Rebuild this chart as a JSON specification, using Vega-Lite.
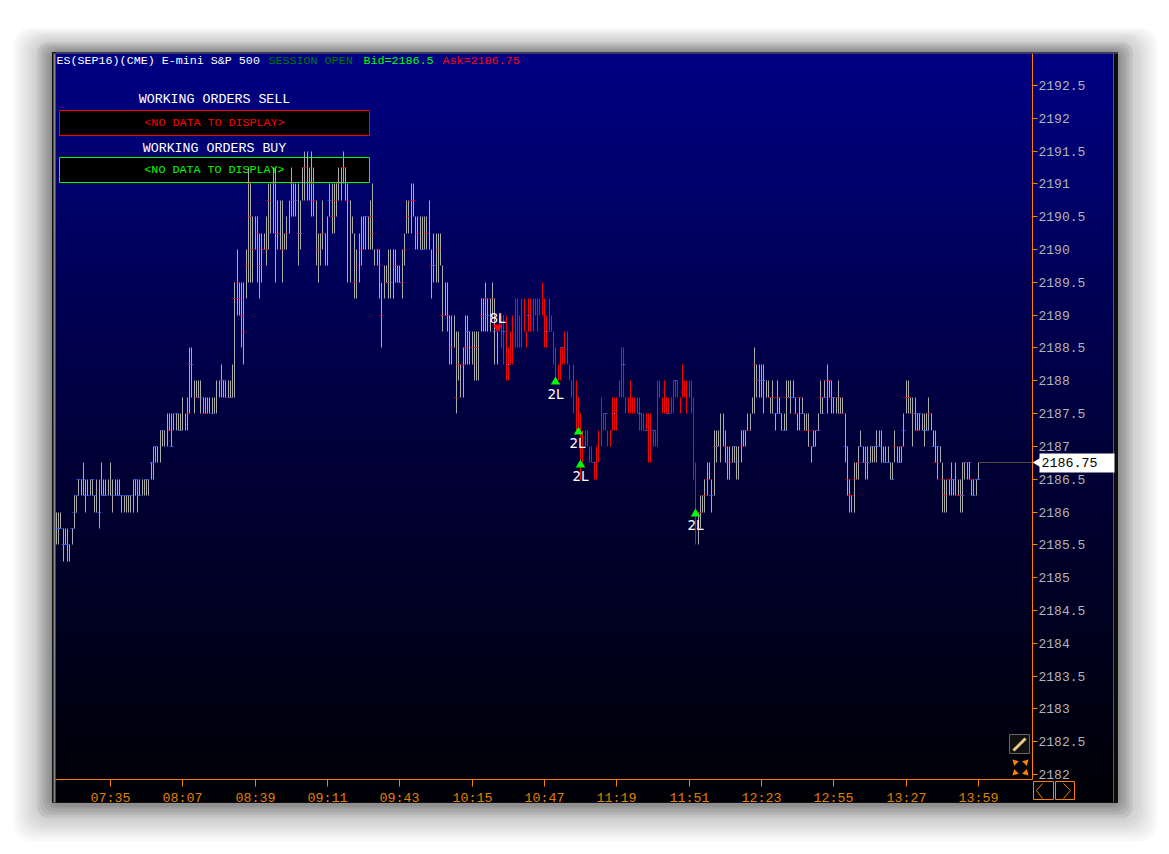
{"$schema":"https://vega.github.io/schema/vega-lite/v6.json","width":977,"height":726,"autosize":{"type":"none"},"padding":{"left":55.5,"top":53.5,"right":136.5,"bottom":74.5},"background":"#ffffff","view":{"stroke":null},
"config":{"axis":{"grid":false,"title":null,"translate":0}},
"encoding":{"x":{"field":"t","type":"temporal","title":null,"scale":{"round":true,"domain":[{"year":1900,"month":1,"date":1,"hours":7,"minutes":10,"seconds":40},{"year":1900,"month":1,"date":1,"hours":14,"minutes":22,"seconds":53}]},"axis":{"orient":"bottom","zindex":1,"format":"%H:%M","values":[{"year":1900,"month":1,"date":1,"hours":7,"minutes":35},{"year":1900,"month":1,"date":1,"hours":8,"minutes":7},{"year":1900,"month":1,"date":1,"hours":8,"minutes":39},{"year":1900,"month":1,"date":1,"hours":9,"minutes":11},{"year":1900,"month":1,"date":1,"hours":9,"minutes":43},{"year":1900,"month":1,"date":1,"hours":10,"minutes":15},{"year":1900,"month":1,"date":1,"hours":10,"minutes":47},{"year":1900,"month":1,"date":1,"hours":11,"minutes":19},{"year":1900,"month":1,"date":1,"hours":11,"minutes":51},{"year":1900,"month":1,"date":1,"hours":12,"minutes":23},{"year":1900,"month":1,"date":1,"hours":12,"minutes":55},{"year":1900,"month":1,"date":1,"hours":13,"minutes":27},{"year":1900,"month":1,"date":1,"hours":13,"minutes":59}],"domainColor":"#ff8000","tickColor":"#ff8000","tickSize":7,"labelColor":"#e08000","labelFont":"Liberation Mono","labelFontSize":13.3,"labelPadding":4,"labelOverlap":false,"labelFlush":false}},
"y":{"field":"l","type":"quantitative","title":null,"scale":{"round":true,"zero":false,"nice":false,"domain":[2181.924,2192.988]},"axis":{"orient":"right","zindex":1,"format":"~f","values":[2182,2182.5,2183,2183.5,2184,2184.5,2185,2185.5,2186,2186.5,2187,2187.5,2188,2188.5,2189,2189.5,2190,2190.5,2191,2191.5,2192,2192.5],"domainColor":"#ff8000","tickColor":"#ff8000","tickSize":5,"labelColor":"#b4b4b4","labelFont":"Liberation Mono","labelFontSize":13,"labelPadding":1,"labelOverlap":false,"labelFlush":false}}},
"layer":[
{"data":{"values":[{"t":"06:52:00","t2":"15:18:00","l":2180.98,"h":2193.39},{"t":"06:53:20","t2":"15:16:40","l":2181.02,"h":2193.36},{"t":"06:54:40","t2":"15:15:20","l":2181.07,"h":2193.33},{"t":"06:56:00","t2":"15:14:00","l":2181.11,"h":2193.30},{"t":"06:57:20","t2":"15:12:40","l":2181.16,"h":2193.27},{"t":"06:58:40","t2":"15:11:20","l":2181.20,"h":2193.24},{"t":"07:00:00","t2":"15:10:00","l":2181.25,"h":2193.21},{"t":"07:01:20","t2":"15:08:40","l":2181.30,"h":2193.18}],"format":{"parse":{"t":"date:'%H:%M:%S'","t2":"date:'%H:%M:%S'"}}},"mark":{"type":"rect","fill":"#000000","opacity":0.025,"cornerRadius":18},"encoding":{"x2":{"field":"t2"},"y2":{"field":"h"}}},
{"data":{"values":[{"t":"07:02:40","t2":"15:07:20","l":2181.34,"h":2193.15},{"t":"07:04:00","t2":"15:06:00","l":2181.39,"h":2193.12},{"t":"07:05:20","t2":"15:04:40","l":2181.43,"h":2193.09},{"t":"07:06:40","t2":"15:03:20","l":2181.48,"h":2193.06},{"t":"07:08:00","t2":"15:02:00","l":2181.52,"h":2193.03}],"format":{"parse":{"t":"date:'%H:%M:%S'","t2":"date:'%H:%M:%S'"}}},"mark":{"type":"rect","fill":"#000000","opacity":0.07,"cornerRadius":10},"encoding":{"x2":{"field":"t2"},"y2":{"field":"h"}}},
{"data":{"values":[{"t":"07:09:20","t2":"15:00:40","l":2181.57,"h":2193.0}],"format":{"parse":{"t":"date:'%H:%M:%S'","t2":"date:'%H:%M:%S'"}}},"mark":{"type":"rect","stroke":"#111111","strokeWidth":1,"fill":{"gradient":"linear","x1":0,"y1":0,"x2":0,"y2":1,"stops":[{"offset":0,"color":"#000084"},{"offset":0.5,"color":"#00003c"},{"offset":1,"color":"#000006"}]}},"encoding":{"x2":{"field":"t2"},"y2":{"field":"h"}}},
{"data":{"values":[{"t":"07:09:50","t2":"07:10:40","l":2181.57,"h":2192.985,"n":"left"},{"t":"14:58:43","t2":"15:00:40","l":2181.57,"h":2192.985,"n":"right"}],"format":{"parse":{"t":"date:'%H:%M:%S'","t2":"date:'%H:%M:%S'"}}},"mark":{"type":"rect"},"encoding":{"x2":{"field":"t2"},"y2":{"field":"h"},"fill":{"field":"n","scale":{"domain":["left","right"],"range":["#8a8a8a","#0c0c0c"]},"legend":null}}},
{"data":{"values":[{"t":"07:10:40","t2":"15:00:40","l":2192.985,"h":2193.0}],"format":{"parse":{"t":"date:'%H:%M:%S'","t2":"date:'%H:%M:%S'"}}},"mark":{"type":"rect","fill":"#707070"},"encoding":{"x2":{"field":"t2"},"y2":{"field":"h"}}},
{"data":{"values":[{"t":"14:58:43","l":2181.57,"h":2192.985}],"format":{"parse":{"t":"date:'%H:%M:%S'"}}},"mark":{"type":"rule","color":"#5a5a5a","strokeWidth":1},"encoding":{"y2":{"field":"h"}}},
{"data":{"values":[{"t":"07:12:30","t2":"09:29:30","l":2191.74,"h":2192.12,"n":"sell"},{"t":"07:12:30","t2":"09:29:30","l":2191.02,"h":2191.4,"n":"buy"}],"format":{"parse":{"t":"date:'%H:%M:%S'","t2":"date:'%H:%M:%S'"}}},"mark":{"type":"rect","fill":"#000000","strokeWidth":1},"encoding":{"x2":{"field":"t2"},"y2":{"field":"h"},"stroke":{"field":"n","scale":{"domain":["sell","buy"],"range":["#ff0000","#00ff00"]},"legend":null}}},
{"data":{"values":[{"t":"07:11:00","l":2192.895,"txt":"ES(SEP16)(CME) E-mini S&P 500","n":"white"},{"t":"08:45:00","l":2192.895,"txt":"SESSION OPEN","n":"session"},{"t":"09:27:00","l":2192.895,"txt":"Bid=2186.5","n":"bid"},{"t":"10:02:00","l":2192.895,"txt":"Ask=2186.75","n":"ask"}],"format":{"parse":{"t":"date:'%H:%M:%S'"}}},"mark":{"type":"text","align":"left","baseline":"middle","font":"Liberation Mono","fontSize":11.7},"encoding":{"text":{"field":"txt"},"color":{"field":"n","scale":{"domain":["g","r","b","white","session","bid","ask"],"range":["#ababab","#ff0000","#3a6cff","#ffffff","#007a00","#00ff00","#ff0000"]},"legend":null}}},
{"data":{"values":[{"t":"08:21:00","l":2192.305,"txt":"WORKING ORDERS SELL"},{"t":"08:21:00","l":2191.555,"txt":"WORKING ORDERS BUY"}],"format":{"parse":{"t":"date:'%H:%M:%S'"}}},"mark":{"type":"text","align":"center","baseline":"middle","font":"Liberation Mono","fontSize":13.3,"color":"#ffffff"},"encoding":{"text":{"field":"txt"}}},
{"data":{"values":[{"t":"08:21:00","l":2191.955,"txt":"<NO DATA TO DISPLAY>","n":"r"},{"t":"08:21:00","l":2191.235,"txt":"<NO DATA TO DISPLAY>","n":"bid"}],"format":{"parse":{"t":"date:'%H:%M:%S'"}}},"mark":{"type":"text","align":"center","baseline":"middle","font":"Liberation Mono","fontSize":11.7},"encoding":{"text":{"field":"txt"},"color":{"field":"n","legend":null}}},
{"data":{"values":[
{"t":"07:11","l":2185.5,"h":2186,"s":"g"},{"t":"07:12","l":2185.5,"h":2186,"s":"g"},{"t":"07:13","l":2185.75,"h":2186,"s":"g"},{"t":"07:14","l":2185.25,"h":2185.75,"s":"g"},{"t":"07:15","l":2185.5,"h":2185.75,"s":"g"},{"t":"07:16","l":2185.25,"h":2185.75,"s":"g"},{"t":"07:17","l":2185.25,"h":2185.5,"s":"g"},{"t":"07:18","l":2185.5,"h":2185.75,"s":"g"},{"t":"07:19","l":2185.75,"h":2186.25,"s":"g"},{"t":"07:20","l":2186,"h":2186.25,"s":"g"},
{"t":"07:21","l":2186.25,"h":2186.5,"s":"g"},{"t":"07:22","l":2186.25,"h":2186.5,"s":"g"},{"t":"07:23","l":2186.25,"h":2186.75,"s":"g"},{"t":"07:24","l":2186,"h":2186.5,"s":"g"},{"t":"07:25","l":2186.25,"h":2186.5,"s":"g"},{"t":"07:26","l":2186.25,"h":2186.5,"s":"g"},{"t":"07:27","l":2186.25,"h":2186.5,"s":"g"},{"t":"07:28","l":2186,"h":2186.25,"s":"g"},{"t":"07:29","l":2186,"h":2186.5,"s":"g"},{"t":"07:30","l":2185.75,"h":2186.5,"s":"g"},
{"t":"07:31","l":2186.25,"h":2186.75,"s":"g"},{"t":"07:32","l":2186.25,"h":2186.5,"s":"g"},{"t":"07:33","l":2186.25,"h":2186.5,"s":"g"},{"t":"07:34","l":2186.25,"h":2186.5,"s":"g"},{"t":"07:35","l":2186.25,"h":2186.75,"s":"g"},{"t":"07:36","l":2186,"h":2186.5,"s":"g"},{"t":"07:37","l":2186.25,"h":2186.5,"s":"g"},{"t":"07:38","l":2186.25,"h":2186.5,"s":"g"},{"t":"07:39","l":2186.25,"h":2186.5,"s":"g"},{"t":"07:40","l":2186,"h":2186.25,"s":"g"},
{"t":"07:41","l":2186,"h":2186.25,"s":"g"},{"t":"07:42","l":2186,"h":2186.25,"s":"g"},{"t":"07:43","l":2186,"h":2186.25,"s":"g"},{"t":"07:44","l":2186,"h":2186.25,"s":"g"},{"t":"07:45","l":2186,"h":2186.5,"s":"g"},{"t":"07:46","l":2186.25,"h":2186.5,"s":"g"},{"t":"07:47","l":2186,"h":2186.5,"s":"g"},{"t":"07:48","l":2186.25,"h":2186.5,"s":"g"},{"t":"07:49","l":2186.25,"h":2186.5,"s":"g"},{"t":"07:50","l":2186.25,"h":2186.5,"s":"g"},
{"t":"07:51","l":2186.25,"h":2186.5,"s":"g"},{"t":"07:52","l":2186.25,"h":2186.5,"s":"g"},{"t":"07:53","l":2186.5,"h":2186.75,"s":"g"},{"t":"07:54","l":2186.5,"h":2187,"s":"g"},{"t":"07:55","l":2186.75,"h":2187,"s":"g"},{"t":"07:56","l":2186.75,"h":2187,"s":"g"},{"t":"07:57","l":2186.75,"h":2187.25,"s":"g"},{"t":"07:58","l":2187,"h":2187.25,"s":"g"},{"t":"07:59","l":2187,"h":2187.25,"s":"g"},{"t":"08:00","l":2187,"h":2187.5,"s":"g"},
{"t":"08:01","l":2187.25,"h":2187.5,"s":"g"},{"t":"08:02","l":2187,"h":2187.5,"s":"g"},{"t":"08:03","l":2187.25,"h":2187.5,"s":"g"},{"t":"08:04","l":2187.25,"h":2187.5,"s":"g"},{"t":"08:05","l":2187.25,"h":2187.5,"s":"g"},{"t":"08:06","l":2187.25,"h":2187.5,"s":"g"},{"t":"08:07","l":2187.25,"h":2187.75,"s":"g"},{"t":"08:08","l":2187.25,"h":2187.5,"s":"g"},{"t":"08:09","l":2187.25,"h":2187.75,"s":"g"},{"t":"08:10","l":2187.5,"h":2188.5,"s":"g"},
{"t":"08:11","l":2187.75,"h":2188.5,"s":"g"},{"t":"08:12","l":2187.5,"h":2188,"s":"g"},{"t":"08:13","l":2187.75,"h":2188,"s":"g"},{"t":"08:14","l":2187.75,"h":2188,"s":"g"},{"t":"08:15","l":2187.5,"h":2188,"s":"g"},{"t":"08:16","l":2187.5,"h":2187.75,"s":"g"},{"t":"08:17","l":2187.5,"h":2187.75,"s":"g"},{"t":"08:18","l":2187.5,"h":2187.75,"s":"g"},{"t":"08:19","l":2187.5,"h":2187.75,"s":"g"},{"t":"08:20","l":2187.5,"h":2187.75,"s":"g"},
{"t":"08:21","l":2187.5,"h":2187.75,"s":"g"},{"t":"08:22","l":2187.5,"h":2188,"s":"g"},{"t":"08:23","l":2187.75,"h":2188,"s":"g"},{"t":"08:24","l":2187.75,"h":2188.25,"s":"g"},{"t":"08:25","l":2187.75,"h":2188,"s":"g"},{"t":"08:26","l":2187.75,"h":2188,"s":"g"},{"t":"08:27","l":2187.75,"h":2188,"s":"g"},{"t":"08:28","l":2187.75,"h":2188,"s":"g"},{"t":"08:29","l":2187.75,"h":2188.25,"s":"g"},{"t":"08:30","l":2187.75,"h":2189.5,"s":"g"},
{"t":"08:31","l":2189,"h":2190,"s":"g"},{"t":"08:32","l":2189,"h":2189.5,"s":"g"},{"t":"08:33","l":2188.5,"h":2189.5,"s":"g"},{"t":"08:34","l":2188.25,"h":2189.5,"s":"g"},{"t":"08:35","l":2189.25,"h":2190,"s":"g"},{"t":"08:36","l":2189.5,"h":2191.25,"s":"g"},{"t":"08:37","l":2189.5,"h":2191,"s":"g"},{"t":"08:38","l":2189.5,"h":2190.5,"s":"g"},{"t":"08:39","l":2190,"h":2190.5,"s":"g"},{"t":"08:40","l":2189.5,"h":2190.5,"s":"g"},
{"t":"08:41","l":2189.25,"h":2190.25,"s":"g"},{"t":"08:42","l":2189.5,"h":2190.25,"s":"g"},{"t":"08:43","l":2190,"h":2190.25,"s":"g"},{"t":"08:44","l":2189.75,"h":2190.5,"s":"g"},{"t":"08:45","l":2190,"h":2191,"s":"g"},{"t":"08:46","l":2190.25,"h":2191,"s":"g"},{"t":"08:47","l":2190.25,"h":2191.25,"s":"g"},{"t":"08:48","l":2189.5,"h":2191.25,"s":"g"},{"t":"08:49","l":2190,"h":2190.75,"s":"g"},{"t":"08:50","l":2190,"h":2190.75,"s":"g"},
{"t":"08:51","l":2189.5,"h":2190.75,"s":"g"},{"t":"08:52","l":2190,"h":2190.25,"s":"g"},{"t":"08:53","l":2190,"h":2190.5,"s":"g"},{"t":"08:54","l":2190.25,"h":2190.75,"s":"g"},{"t":"08:55","l":2190.5,"h":2191.25,"s":"g"},{"t":"08:56","l":2190.5,"h":2191,"s":"g"},{"t":"08:57","l":2190.5,"h":2191,"s":"g"},{"t":"08:58","l":2189.75,"h":2191,"s":"g"},{"t":"08:59","l":2190,"h":2190.75,"s":"g"},{"t":"09:00","l":2190.75,"h":2191.25,"s":"g"},
{"t":"09:01","l":2190.75,"h":2191.5,"s":"g"},{"t":"09:02","l":2190.75,"h":2191.5,"s":"g"},{"t":"09:03","l":2190.75,"h":2191.25,"s":"g"},{"t":"09:04","l":2190.5,"h":2191.5,"s":"g"},{"t":"09:05","l":2190.5,"h":2191.25,"s":"g"},{"t":"09:06","l":2189.75,"h":2190.75,"s":"g"},{"t":"09:07","l":2189.5,"h":2190.25,"s":"g"},{"t":"09:08","l":2189.75,"h":2190.25,"s":"g"},{"t":"09:09","l":2190,"h":2190.75,"s":"g"},{"t":"09:10","l":2189.75,"h":2190.25,"s":"g"},
{"t":"09:11","l":2189.75,"h":2190.5,"s":"g"},{"t":"09:12","l":2190.5,"h":2191,"s":"g"},{"t":"09:13","l":2190.25,"h":2191,"s":"g"},{"t":"09:14","l":2190.25,"h":2191,"s":"g"},{"t":"09:15","l":2190.5,"h":2191,"s":"g"},{"t":"09:16","l":2190.75,"h":2191.25,"s":"g"},{"t":"09:17","l":2190.75,"h":2191.25,"s":"g"},{"t":"09:18","l":2191,"h":2191.5,"s":"g"},{"t":"09:19","l":2190.75,"h":2191.25,"s":"g"},{"t":"09:20","l":2189.5,"h":2191,"s":"g"},
{"t":"09:21","l":2189.5,"h":2190.75,"s":"g"},{"t":"09:22","l":2190.25,"h":2190.5,"s":"g"},{"t":"09:23","l":2189.25,"h":2190.25,"s":"g"},{"t":"09:24","l":2189.25,"h":2190,"s":"g"},{"t":"09:25","l":2189.5,"h":2190.25,"s":"g"},{"t":"09:26","l":2189.75,"h":2190.5,"s":"g"},{"t":"09:27","l":2190,"h":2190.5,"s":"g"},{"t":"09:28","l":2190,"h":2190.5,"s":"g"},{"t":"09:29","l":2190,"h":2190.5,"s":"g"},{"t":"09:30","l":2190,"h":2190.75,"s":"g"},
{"t":"09:31","l":2190,"h":2191,"s":"g"},{"t":"09:32","l":2189.75,"h":2190,"s":"g"},{"t":"09:33","l":2189.75,"h":2190,"s":"g"},{"t":"09:34","l":2189.25,"h":2190,"s":"g"},{"t":"09:35","l":2188.5,"h":2189.5,"s":"g"},{"t":"09:36","l":2189.25,"h":2189.75,"s":"g"},{"t":"09:37","l":2189.5,"h":2189.75,"s":"g"},{"t":"09:38","l":2189.25,"h":2190,"s":"g"},{"t":"09:39","l":2189.25,"h":2190,"s":"g"},{"t":"09:40","l":2189.25,"h":2190,"s":"g"},
{"t":"09:41","l":2189.5,"h":2190,"s":"g"},{"t":"09:42","l":2189.5,"h":2189.75,"s":"g"},{"t":"09:43","l":2189.5,"h":2189.75,"s":"g"},{"t":"09:44","l":2189.25,"h":2190,"s":"g"},{"t":"09:45","l":2189.75,"h":2190.25,"s":"g"},{"t":"09:46","l":2190.25,"h":2190.75,"s":"g"},{"t":"09:47","l":2190.25,"h":2190.75,"s":"g"},{"t":"09:48","l":2190.25,"h":2191,"s":"g"},{"t":"09:49","l":2190.5,"h":2191,"s":"g"},{"t":"09:50","l":2190,"h":2190.5,"s":"g"},
{"t":"09:51","l":2190,"h":2190.5,"s":"g"},{"t":"09:52","l":2190,"h":2190.5,"s":"g"},{"t":"09:53","l":2190,"h":2190.5,"s":"g"},{"t":"09:54","l":2190,"h":2190.5,"s":"g"},{"t":"09:55","l":2190,"h":2190.5,"s":"g"},{"t":"09:56","l":2190,"h":2190.75,"s":"g"},{"t":"09:57","l":2189.25,"h":2190,"s":"g"},{"t":"09:58","l":2189.5,"h":2190.25,"s":"g"},{"t":"09:59","l":2189.5,"h":2190.25,"s":"g"},{"t":"10:00","l":2189.5,"h":2190.25,"s":"g"},
{"t":"10:01","l":2189.75,"h":2190.25,"s":"g"},{"t":"10:02","l":2188.75,"h":2189.75,"s":"g"},{"t":"10:03","l":2189,"h":2189.5,"s":"g"},{"t":"10:04","l":2188.75,"h":2189.5,"s":"g"},{"t":"10:05","l":2188.25,"h":2189,"s":"g"},{"t":"10:06","l":2188.25,"h":2189,"s":"g"},{"t":"10:07","l":2188.5,"h":2189,"s":"g"},{"t":"10:08","l":2187.5,"h":2188.75,"s":"g"},{"t":"10:09","l":2188,"h":2188.75,"s":"g"},{"t":"10:10","l":2187.75,"h":2188.25,"s":"g"},
{"t":"10:11","l":2187.75,"h":2188.5,"s":"g"},{"t":"10:12","l":2188.25,"h":2189,"s":"g"},{"t":"10:13","l":2188.25,"h":2189,"s":"g"},{"t":"10:14","l":2188.25,"h":2188.75,"s":"g"},{"t":"10:15","l":2188.25,"h":2188.75,"s":"g"},{"t":"10:16","l":2188,"h":2188.75,"s":"g"},{"t":"10:17","l":2188,"h":2188.75,"s":"g"},{"t":"10:18","l":2188,"h":2188.75,"s":"g"},{"t":"10:19","l":2188.75,"h":2189.25,"s":"g"},{"t":"10:20","l":2188.75,"h":2189.25,"s":"g"},
{"t":"10:21","l":2188.75,"h":2189.5,"s":"g"},{"t":"10:22","l":2188.75,"h":2189.25,"s":"g"},{"t":"10:23","l":2188.75,"h":2189.25,"s":"g"},{"t":"10:24","l":2189,"h":2189.5,"s":"g"},{"t":"10:25","l":2188.25,"h":2189.25,"s":"g"},{"t":"10:26","l":2188.25,"h":2188.75,"s":"g"},{"t":"10:27","l":2188.75,"h":2189,"s":"r"},{"t":"10:28","l":2188.5,"h":2189,"s":"r"},{"t":"10:29","l":2188.25,"h":2189,"s":"r"},{"t":"10:30","l":2188,"h":2189,"s":"r"},
{"t":"10:31","l":2188,"h":2188.5,"s":"r"},{"t":"10:32","l":2188.25,"h":2188.75,"s":"r"},{"t":"10:33","l":2188.25,"h":2189,"s":"r"},{"t":"10:34","l":2188.5,"h":2189.25,"s":"r"},{"t":"10:35","l":2188.5,"h":2189.25,"s":"r"},{"t":"10:36","l":2188.5,"h":2189,"s":"r"},{"t":"10:37","l":2188.5,"h":2189.25,"s":"r"},{"t":"10:38","l":2188.75,"h":2189.25,"s":"r"},{"t":"10:39","l":2188.5,"h":2188.75,"s":"r"},{"t":"10:40","l":2188.75,"h":2189.25,"s":"r"},
{"t":"10:41","l":2188.75,"h":2189.25,"s":"r"},{"t":"10:42","l":2188.75,"h":2189.25,"s":"r"},{"t":"10:43","l":2189,"h":2189.25,"s":"r"},{"t":"10:44","l":2188.75,"h":2189.25,"s":"r"},{"t":"10:45","l":2189,"h":2189.25,"s":"r"},{"t":"10:46","l":2189,"h":2189.5,"s":"r"},{"t":"10:47","l":2188.5,"h":2189.25,"s":"r"},{"t":"10:48","l":2188.5,"h":2189,"s":"r"},{"t":"10:49","l":2188.75,"h":2189.25,"s":"r"},{"t":"10:50","l":2188.75,"h":2189,"s":"r"},
{"t":"10:51","l":2188.25,"h":2188.75,"s":"r"},{"t":"10:52","l":2188,"h":2188.5,"s":"r"},{"t":"10:53","l":2188,"h":2188.25,"s":"r"},{"t":"10:54","l":2188,"h":2188.5,"s":"r"},{"t":"10:55","l":2188.25,"h":2188.5,"s":"r"},{"t":"10:56","l":2188.25,"h":2188.75,"s":"r"},{"t":"10:57","l":2188.25,"h":2188.75,"s":"r"},{"t":"10:58","l":2188,"h":2188.25,"s":"r"},{"t":"10:59","l":2187.75,"h":2188,"s":"r"},{"t":"11:00","l":2187.5,"h":2188.25,"s":"r"},
{"t":"11:01","l":2187.25,"h":2188,"s":"r"},{"t":"11:02","l":2187.25,"h":2187.75,"s":"r"},{"t":"11:03","l":2186.5,"h":2187.5,"s":"r"},{"t":"11:04","l":2186.75,"h":2187.25,"s":"r"},{"t":"11:05","l":2187,"h":2187.25,"s":"r"},{"t":"11:06","l":2187,"h":2187.25,"s":"r"},{"t":"11:07","l":2186.75,"h":2187,"s":"r"},{"t":"11:08","l":2186.75,"h":2187,"s":"r"},{"t":"11:09","l":2186.5,"h":2186.75,"s":"r"},{"t":"11:10","l":2186.5,"h":2187,"s":"r"},
{"t":"11:11","l":2186.75,"h":2187.25,"s":"r"},{"t":"11:12","l":2187,"h":2187.75,"s":"r"},{"t":"11:13","l":2187.25,"h":2187.5,"s":"r"},{"t":"11:14","l":2187.25,"h":2187.5,"s":"r"},{"t":"11:15","l":2187,"h":2187.25,"s":"r"},{"t":"11:16","l":2187,"h":2187.25,"s":"r"},{"t":"11:17","l":2187.25,"h":2187.75,"s":"r"},{"t":"11:18","l":2187.25,"h":2187.75,"s":"r"},{"t":"11:19","l":2187.25,"h":2187.75,"s":"r"},{"t":"11:20","l":2187.75,"h":2188,"s":"r"},
{"t":"11:21","l":2187.75,"h":2188.5,"s":"r"},{"t":"11:22","l":2187.75,"h":2188.5,"s":"r"},{"t":"11:23","l":2187.5,"h":2187.75,"s":"r"},{"t":"11:24","l":2187.5,"h":2187.75,"s":"r"},{"t":"11:25","l":2187.5,"h":2188,"s":"r"},{"t":"11:26","l":2187.5,"h":2187.75,"s":"r"},{"t":"11:27","l":2187.5,"h":2187.75,"s":"r"},{"t":"11:28","l":2187.5,"h":2187.75,"s":"r"},{"t":"11:29","l":2187.25,"h":2187.75,"s":"r"},{"t":"11:30","l":2187.25,"h":2187.5,"s":"r"},
{"t":"11:31","l":2187.25,"h":2187.5,"s":"r"},{"t":"11:32","l":2187.25,"h":2187.5,"s":"r"},{"t":"11:33","l":2186.75,"h":2187.5,"s":"r"},{"t":"11:34","l":2186.75,"h":2187.5,"s":"r"},{"t":"11:35","l":2187,"h":2187.25,"s":"r"},{"t":"11:36","l":2187,"h":2187.25,"s":"r"},{"t":"11:37","l":2187,"h":2188,"s":"r"},{"t":"11:38","l":2187.75,"h":2188,"s":"r"},{"t":"11:39","l":2187.5,"h":2187.75,"s":"r"},{"t":"11:40","l":2187.5,"h":2188,"s":"r"},
{"t":"11:41","l":2187.5,"h":2187.75,"s":"r"},{"t":"11:42","l":2187.5,"h":2187.75,"s":"r"},{"t":"11:43","l":2187.5,"h":2187.75,"s":"r"},{"t":"11:44","l":2187.5,"h":2188,"s":"r"},{"t":"11:45","l":2187.75,"h":2188,"s":"r"},{"t":"11:46","l":2187.75,"h":2188,"s":"r"},{"t":"11:47","l":2187.5,"h":2187.75,"s":"r"},{"t":"11:48","l":2187.75,"h":2188.25,"s":"r"},{"t":"11:49","l":2187.75,"h":2188,"s":"r"},{"t":"11:50","l":2187.5,"h":2188,"s":"r"},
{"t":"11:51","l":2187.75,"h":2188,"s":"r"},{"t":"11:52","l":2187.5,"h":2188,"s":"r"},{"t":"11:53","l":2186.5,"h":2187.75,"s":"r"},{"t":"11:54","l":2185.5,"h":2186.75,"s":"r"},{"t":"11:55","l":2185.5,"h":2186,"s":"g"},{"t":"11:56","l":2185.75,"h":2186.25,"s":"g"},{"t":"11:57","l":2186,"h":2186.25,"s":"g"},{"t":"11:58","l":2186,"h":2186.5,"s":"g"},{"t":"11:59","l":2186.25,"h":2186.75,"s":"g"},{"t":"12:00","l":2186.5,"h":2186.75,"s":"g"},
{"t":"12:01","l":2186,"h":2186.5,"s":"g"},{"t":"12:02","l":2186.25,"h":2187.25,"s":"g"},{"t":"12:03","l":2186.75,"h":2187.25,"s":"g"},{"t":"12:04","l":2187,"h":2187.25,"s":"g"},{"t":"12:05","l":2186.75,"h":2187.5,"s":"g"},{"t":"12:06","l":2187,"h":2187.5,"s":"g"},{"t":"12:07","l":2186.75,"h":2187.25,"s":"g"},{"t":"12:08","l":2186.5,"h":2187,"s":"g"},{"t":"12:09","l":2186.5,"h":2187,"s":"g"},{"t":"12:10","l":2186.75,"h":2187,"s":"g"},
{"t":"12:11","l":2186.75,"h":2187,"s":"g"},{"t":"12:12","l":2186.5,"h":2187,"s":"g"},{"t":"12:13","l":2186.5,"h":2187,"s":"g"},{"t":"12:14","l":2186.75,"h":2187.25,"s":"g"},{"t":"12:15","l":2187,"h":2187.25,"s":"g"},{"t":"12:16","l":2187,"h":2187.25,"s":"g"},{"t":"12:17","l":2187.25,"h":2187.5,"s":"g"},{"t":"12:18","l":2187.25,"h":2187.5,"s":"g"},{"t":"12:19","l":2187.5,"h":2187.75,"s":"g"},{"t":"12:20","l":2187.5,"h":2188.5,"s":"g"},
{"t":"12:21","l":2187.75,"h":2188.25,"s":"g"},{"t":"12:22","l":2187.75,"h":2188.25,"s":"g"},{"t":"12:23","l":2187.75,"h":2188.25,"s":"g"},{"t":"12:24","l":2187.5,"h":2188.25,"s":"g"},{"t":"12:25","l":2187.75,"h":2188,"s":"g"},{"t":"12:26","l":2187.75,"h":2188,"s":"g"},{"t":"12:27","l":2187.5,"h":2187.75,"s":"g"},{"t":"12:28","l":2187.5,"h":2188,"s":"g"},{"t":"12:29","l":2187.25,"h":2187.5,"s":"g"},{"t":"12:30","l":2187.5,"h":2188,"s":"g"},
{"t":"12:31","l":2187.5,"h":2187.75,"s":"g"},{"t":"12:32","l":2187.25,"h":2187.5,"s":"g"},{"t":"12:33","l":2187.25,"h":2187.5,"s":"g"},{"t":"12:34","l":2187.25,"h":2188,"s":"g"},{"t":"12:35","l":2187.75,"h":2188,"s":"g"},{"t":"12:36","l":2187.5,"h":2188,"s":"g"},{"t":"12:37","l":2187.75,"h":2188,"s":"g"},{"t":"12:38","l":2187.5,"h":2187.75,"s":"g"},{"t":"12:39","l":2187.25,"h":2187.5,"s":"g"},{"t":"12:40","l":2187.25,"h":2187.75,"s":"g"},
{"t":"12:41","l":2187.5,"h":2187.75,"s":"g"},{"t":"12:42","l":2187.25,"h":2187.5,"s":"g"},{"t":"12:43","l":2187.25,"h":2187.5,"s":"g"},{"t":"12:44","l":2187,"h":2187.5,"s":"g"},{"t":"12:45","l":2186.75,"h":2187,"s":"g"},{"t":"12:46","l":2187,"h":2187.25,"s":"g"},{"t":"12:47","l":2187,"h":2187.25,"s":"g"},{"t":"12:48","l":2187.25,"h":2187.5,"s":"g"},{"t":"12:49","l":2187.5,"h":2188,"s":"g"},{"t":"12:50","l":2187.5,"h":2187.75,"s":"g"},
{"t":"12:51","l":2187.75,"h":2188,"s":"g"},{"t":"12:52","l":2187.5,"h":2188.25,"s":"g"},{"t":"12:53","l":2187.75,"h":2188,"s":"g"},{"t":"12:54","l":2187.5,"h":2188,"s":"g"},{"t":"12:55","l":2187.5,"h":2187.75,"s":"g"},{"t":"12:56","l":2187.5,"h":2187.75,"s":"g"},{"t":"12:57","l":2187.5,"h":2188,"s":"g"},{"t":"12:58","l":2187.5,"h":2187.75,"s":"g"},{"t":"12:59","l":2187.5,"h":2187.75,"s":"g"},{"t":"13:00","l":2186.75,"h":2187.5,"s":"g"},
{"t":"13:01","l":2186.25,"h":2187,"s":"g"},{"t":"13:02","l":2186,"h":2186.5,"s":"g"},{"t":"13:03","l":2186,"h":2186.25,"s":"g"},{"t":"13:04","l":2186,"h":2186.75,"s":"g"},{"t":"13:05","l":2186.5,"h":2186.75,"s":"g"},{"t":"13:06","l":2186.5,"h":2187,"s":"g"},{"t":"13:07","l":2187,"h":2187.25,"s":"g"},{"t":"13:08","l":2186.75,"h":2187,"s":"g"},{"t":"13:09","l":2186.5,"h":2187,"s":"g"},{"t":"13:10","l":2186.5,"h":2187,"s":"g"},
{"t":"13:11","l":2186.75,"h":2187,"s":"g"},{"t":"13:12","l":2186.75,"h":2187,"s":"g"},{"t":"13:13","l":2186.75,"h":2187,"s":"g"},{"t":"13:14","l":2186.75,"h":2187.25,"s":"g"},{"t":"13:15","l":2187,"h":2187.25,"s":"g"},{"t":"13:16","l":2186.75,"h":2187.25,"s":"g"},{"t":"13:17","l":2186.75,"h":2187,"s":"g"},{"t":"13:18","l":2186.75,"h":2187,"s":"g"},{"t":"13:19","l":2186.75,"h":2187,"s":"g"},{"t":"13:20","l":2186.5,"h":2186.75,"s":"g"},
{"t":"13:21","l":2186.5,"h":2186.75,"s":"g"},{"t":"13:22","l":2186.75,"h":2187.25,"s":"g"},{"t":"13:23","l":2186.75,"h":2187,"s":"g"},{"t":"13:24","l":2186.75,"h":2187,"s":"g"},{"t":"13:25","l":2186.75,"h":2187,"s":"g"},{"t":"13:26","l":2187,"h":2187.5,"s":"g"},{"t":"13:27","l":2187.5,"h":2188,"s":"g"},{"t":"13:28","l":2187.5,"h":2188,"s":"g"},{"t":"13:29","l":2187.5,"h":2187.75,"s":"g"},{"t":"13:30","l":2187,"h":2187.75,"s":"g"},
{"t":"13:31","l":2187.25,"h":2187.75,"s":"g"},{"t":"13:32","l":2187.25,"h":2187.5,"s":"g"},{"t":"13:33","l":2187.25,"h":2187.5,"s":"g"},{"t":"13:34","l":2187.25,"h":2187.5,"s":"g"},{"t":"13:35","l":2187,"h":2187.5,"s":"g"},{"t":"13:36","l":2187.25,"h":2187.5,"s":"g"},{"t":"13:37","l":2187.25,"h":2187.75,"s":"g"},{"t":"13:38","l":2187.25,"h":2187.5,"s":"g"},{"t":"13:39","l":2187,"h":2187.25,"s":"g"},{"t":"13:40","l":2186.75,"h":2187.25,"s":"g"},
{"t":"13:41","l":2186.5,"h":2187,"s":"g"},{"t":"13:42","l":2186.75,"h":2187,"s":"g"},{"t":"13:43","l":2186,"h":2186.75,"s":"g"},{"t":"13:44","l":2186,"h":2186.5,"s":"g"},{"t":"13:45","l":2186,"h":2186.5,"s":"g"},{"t":"13:46","l":2186.25,"h":2186.5,"s":"g"},{"t":"13:47","l":2186.25,"h":2186.75,"s":"g"},{"t":"13:48","l":2186.25,"h":2186.5,"s":"g"},{"t":"13:49","l":2186.25,"h":2186.75,"s":"g"},{"t":"13:50","l":2186.25,"h":2186.5,"s":"g"},
{"t":"13:51","l":2186,"h":2186.5,"s":"g"},{"t":"13:52","l":2186,"h":2186.75,"s":"g"},{"t":"13:53","l":2186.5,"h":2186.75,"s":"g"},{"t":"13:54","l":2186.5,"h":2186.75,"s":"g"},{"t":"13:55","l":2186.5,"h":2186.75,"s":"g"},{"t":"13:56","l":2186.25,"h":2186.5,"s":"g"},{"t":"13:57","l":2186.25,"h":2186.5,"s":"g"},{"t":"13:58","l":2186.25,"h":2186.5,"s":"g"},{"t":"13:59","l":2186.5,"h":2186.75,"s":"g"}
],"format":{"parse":{"t":"date:'%H:%M'"}}},"mark":{"type":"rule","strokeWidth":1},"encoding":{"y2":{"field":"h"},"color":{"field":"s","legend":null}}},
{"data":{"values":[
{"t":"07:11","l":2185.75,"k":"b"},{"t":"07:12","l":2185.75,"k":"b"},{"t":"07:13","l":2185.75,"k":"b"},{"t":"07:14","l":2185.5,"k":"b"},{"t":"07:15","l":2185.5,"k":"b"},{"t":"07:16","l":2185.5,"k":"b"},{"t":"07:18","l":2185.75,"k":"b"},{"t":"07:19","l":2186,"k":"b"},{"t":"07:20","l":2186.25,"k":"b"},{"t":"07:21","l":2186.5,"k":"b"},{"t":"07:23","l":2186.5,"k":"b"},{"t":"07:24","l":2186.25,"k":"b"},{"t":"07:25","l":2186.25,"k":"b"},{"t":"07:27","l":2186.5,"k":"b"},{"t":"07:28","l":2186.25,"k":"b"},{"t":"07:30","l":2186,"k":"b"},{"t":"07:32","l":2186.25,"k":"b"},{"t":"07:33","l":2186.25,"k":"b"},{"t":"07:36","l":2186.25,"k":"b"},{"t":"07:38","l":2186.25,"k":"b"},{"t":"07:40","l":2186.25,"k":"b"},{"t":"07:42","l":2186.25,"k":"b"},{"t":"07:44","l":2186.25,"k":"b"},{"t":"07:46","l":2186.5,"k":"b"},{"t":"07:48","l":2186.25,"k":"b"},{"t":"07:51","l":2186.5,"k":"b"},{"t":"07:53","l":2186.75,"k":"b"},{"t":"07:55","l":2187,"k":"b"},{"t":"07:58","l":2187.25,"k":"b"},{"t":"08:01","l":2187.25,"k":"r"},{"t":"08:02","l":2187,"k":"b"},{"t":"08:04","l":2187.5,"k":"b"},{"t":"08:06","l":2187.25,"k":"b"},{"t":"08:09","l":2187.5,"k":"r"},{"t":"08:10","l":2188.25,"k":"r"},{"t":"08:11","l":2188.25,"k":"b"},{"t":"08:13","l":2187.75,"k":"r"},{"t":"08:15","l":2187.75,"k":"b"},{"t":"08:17","l":2187.5,"k":"r"},{"t":"08:20","l":2187.5,"k":"b"},{"t":"08:24","l":2188,"k":"r"},{"t":"08:25","l":2188,"k":"b"},{"t":"08:27","l":2187.75,"k":"r"},{"t":"08:28","l":2187.75,"k":"b"},
{"t":"08:30","l":2189.25,"k":"r"},{"t":"08:31","l":2189.5,"k":"r"},{"t":"08:32","l":2189.25,"k":"r"},{"t":"08:33","l":2189,"k":"r"},{"t":"08:34","l":2188.75,"k":"r"},{"t":"08:35","l":2189.75,"k":"r"},{"t":"08:36","l":2191,"k":"r"},{"t":"08:37","l":2190.5,"k":"r"},{"t":"08:38","l":2190,"k":"r"},{"t":"08:40","l":2190.25,"k":"r"},{"t":"08:41","l":2189.75,"k":"r"},{"t":"08:42","l":2190,"k":"r"},{"t":"08:44","l":2190,"k":"r"},{"t":"08:45","l":2190.75,"k":"r"},{"t":"08:47","l":2191,"k":"r"},{"t":"08:49","l":2190.25,"k":"r"},{"t":"08:51","l":2190,"k":"r"},{"t":"08:53","l":2190.25,"k":"r"},{"t":"08:55","l":2191,"k":"r"},{"t":"08:56","l":2190.75,"k":"r"},{"t":"08:57","l":2190.75,"k":"b"},{"t":"08:58","l":2190.25,"k":"r"},{"t":"08:59","l":2190.25,"k":"b"},{"t":"09:01","l":2191.25,"k":"r"},{"t":"09:04","l":2191,"k":"r"},{"t":"09:05","l":2190.75,"k":"r"},{"t":"09:07","l":2190,"k":"r"},{"t":"09:09","l":2190.25,"k":"r"},{"t":"09:12","l":2190.75,"k":"b"},{"t":"09:13","l":2190.5,"k":"r"},{"t":"09:14","l":2190.75,"k":"r"},{"t":"09:16","l":2191,"k":"r"},{"t":"09:18","l":2191.25,"k":"r"},{"t":"09:20","l":2190.75,"k":"r"},{"t":"09:23","l":2189.5,"k":"r"},{"t":"09:24","l":2189.75,"k":"r"},{"t":"09:26","l":2190,"k":"r"},{"t":"09:28","l":2190.5,"k":"b"},{"t":"09:30","l":2190.5,"k":"r"},{"t":"09:31","l":2190.25,"k":"r"},{"t":"09:33","l":2190,"k":"r"},{"t":"09:34","l":2189.75,"k":"r"},{"t":"09:35","l":2189,"k":"r"},{"t":"09:37","l":2189.5,"k":"r"},{"t":"09:39","l":2189.5,"k":"b"},{"t":"09:41","l":2189.75,"k":"r"},{"t":"09:43","l":2189.5,"k":"b"},{"t":"09:44","l":2189.5,"k":"r"},{"t":"09:45","l":2190,"k":"r"},{"t":"09:47","l":2190.5,"k":"r"},{"t":"09:48","l":2190.75,"k":"r"},{"t":"09:49","l":2190.75,"k":"r"},{"t":"09:51","l":2190.25,"k":"r"},{"t":"09:53","l":2190,"k":"b"},{"t":"09:55","l":2190.25,"k":"r"},{"t":"09:57","l":2189.75,"k":"r"},{"t":"09:58","l":2189.75,"k":"b"},{"t":"10:00","l":2190,"k":"r"},{"t":"10:02","l":2189,"k":"r"},{"t":"10:04","l":2189,"k":"r"},{"t":"10:06","l":2188.5,"k":"r"},{"t":"10:08","l":2187.75,"k":"r"},{"t":"10:09","l":2188.25,"k":"r"},{"t":"10:11","l":2188.25,"k":"r"},{"t":"10:12","l":2188.5,"k":"r"},{"t":"10:13","l":2188.75,"k":"b"},{"t":"10:15","l":2188.5,"k":"r"},{"t":"10:17","l":2188.5,"k":"r"},{"t":"10:19","l":2189,"k":"r"},{"t":"10:21","l":2189.25,"k":"r"},{"t":"10:22","l":2189,"k":"b"},{"t":"10:24","l":2189.25,"k":"r"},{"t":"10:25","l":2188.75,"k":"b"},{"t":"10:29","l":2188.75,"k":"b"},{"t":"10:31","l":2188.25,"k":"b"},{"t":"10:40","l":2189,"k":"b"},{"t":"10:48","l":2188.75,"k":"b"},{"t":"10:55","l":2188.5,"k":"b"},{"t":"11:09","l":2186.75,"k":"b"},{"t":"11:14","l":2187.5,"k":"b"},{"t":"11:18","l":2187.5,"k":"b"},{"t":"11:22","l":2188.25,"k":"b"},{"t":"11:29","l":2187.5,"k":"b"},{"t":"11:32","l":2187.25,"k":"b"},{"t":"11:35","l":2187.25,"k":"b"},{"t":"11:42","l":2187.5,"k":"b"},{"t":"11:45","l":2188,"k":"b"},
{"t":"11:55","l":2185.75,"k":"r"},{"t":"11:56","l":2186,"k":"r"},{"t":"11:58","l":2186.25,"k":"r"},{"t":"11:59","l":2186.5,"k":"r"},{"t":"12:01","l":2186.25,"k":"b"},{"t":"12:02","l":2187,"k":"r"},{"t":"12:03","l":2187,"k":"b"},{"t":"12:07","l":2187,"k":"r"},{"t":"12:08","l":2186.75,"k":"b"},{"t":"12:09","l":2186.75,"k":"r"},{"t":"12:11","l":2187,"k":"b"},{"t":"12:12","l":2186.75,"k":"b"},{"t":"12:14","l":2187,"k":"r"},{"t":"12:15","l":2187.25,"k":"b"},{"t":"12:17","l":2187.25,"k":"r"},{"t":"12:20","l":2188.25,"k":"r"},{"t":"12:21","l":2188,"k":"r"},{"t":"12:22","l":2188,"k":"b"},{"t":"12:24","l":2188,"k":"b"},{"t":"12:27","l":2187.75,"k":"r"},{"t":"12:28","l":2187.75,"k":"r"},{"t":"12:29","l":2187.5,"k":"b"},{"t":"12:30","l":2187.75,"k":"r"},{"t":"12:31","l":2187.5,"k":"b"},{"t":"12:33","l":2187.25,"k":"b"},{"t":"12:34","l":2187.75,"k":"r"},{"t":"12:36","l":2187.75,"k":"b"},{"t":"12:37","l":2187.75,"k":"b"},{"t":"12:38","l":2187.5,"k":"r"},{"t":"12:40","l":2187.75,"k":"r"},{"t":"12:41","l":2187.5,"k":"b"},{"t":"12:43","l":2187.25,"k":"r"},{"t":"12:44","l":2187.25,"k":"r"},{"t":"12:45","l":2187,"k":"r"},{"t":"12:46","l":2187,"k":"b"},{"t":"12:47","l":2187.25,"k":"r"},{"t":"12:48","l":2187.25,"k":"b"},{"t":"12:49","l":2187.75,"k":"r"},{"t":"12:50","l":2187.5,"k":"b"},{"t":"12:51","l":2187.75,"k":"b"},{"t":"12:52","l":2188,"k":"r"},{"t":"12:53","l":2188,"k":"r"},{"t":"12:54","l":2187.75,"k":"r"},{"t":"12:55","l":2187.75,"k":"b"},{"t":"12:57","l":2187.75,"k":"r"},{"t":"12:58","l":2187.5,"k":"b"},{"t":"12:59","l":2187.5,"k":"r"},{"t":"13:00","l":2187,"k":"b"},{"t":"13:01","l":2186.5,"k":"r"},{"t":"13:02","l":2186.25,"k":"r"},{"t":"13:03","l":2186.25,"k":"r"},{"t":"13:04","l":2186.5,"k":"r"},{"t":"13:06","l":2186.75,"k":"r"},{"t":"13:07","l":2187,"k":"b"},{"t":"13:08","l":2186.75,"k":"b"},{"t":"13:09","l":2186.75,"k":"r"},{"t":"13:10","l":2186.75,"k":"b"},{"t":"13:12","l":2187,"k":"b"},{"t":"13:14","l":2187,"k":"b"},{"t":"13:15","l":2187,"k":"b"},{"t":"13:18","l":2186.75,"k":"b"},{"t":"13:19","l":2186.75,"k":"b"},{"t":"13:21","l":2186.5,"k":"b"},{"t":"13:22","l":2187,"k":"r"},{"t":"13:24","l":2186.75,"k":"b"},{"t":"13:25","l":2187,"k":"r"},{"t":"13:26","l":2187.25,"k":"b"},{"t":"13:27","l":2187.75,"k":"r"},{"t":"13:28","l":2187.75,"k":"r"},{"t":"13:30","l":2187.5,"k":"r"},{"t":"13:31","l":2187.5,"k":"b"},{"t":"13:32","l":2187.25,"k":"r"},{"t":"13:33","l":2187.5,"k":"b"},{"t":"13:35","l":2187.25,"k":"b"},{"t":"13:36","l":2187.25,"k":"b"},{"t":"13:37","l":2187.5,"k":"r"},{"t":"13:39","l":2187,"k":"b"},{"t":"13:40","l":2186.75,"k":"r"},{"t":"13:41","l":2187,"k":"b"},{"t":"13:43","l":2186.5,"k":"r"},{"t":"13:44","l":2186.25,"k":"r"},{"t":"13:46","l":2186.5,"k":"r"},{"t":"13:47","l":2186.5,"k":"r"},{"t":"13:48","l":2186.5,"k":"b"},{"t":"13:50","l":2186.25,"k":"r"},{"t":"13:51","l":2186.25,"k":"r"},{"t":"13:52","l":2186.25,"k":"b"},{"t":"13:53","l":2186.75,"k":"b"},{"t":"13:54","l":2186.75,"k":"r"},{"t":"13:55","l":2186.75,"k":"b"},{"t":"13:56","l":2186.5,"k":"r"},{"t":"13:57","l":2186.25,"k":"b"},{"t":"13:58","l":2186.5,"k":"b"},{"t":"13:59","l":2186.5,"k":"b"}
],"format":{"parse":{"t":"date:'%H:%M'"}}},"mark":{"type":"tick","orient":"horizontal","size":4,"thickness":1},"encoding":{"color":{"field":"k","legend":null}}},
{"data":{"values":[{"t":"13:59:00","t2":"14:22:53","l":2186.75}],"format":{"parse":{"t":"date:'%H:%M:%S'","t2":"date:'%H:%M:%S'"}}},"mark":{"type":"rule","color":"#50503c","strokeWidth":1},"encoding":{"x2":{"field":"t2"}}},
{"data":{"values":[{"t":"10:26:00","l":2188.8,"n":"sell"}],"format":{"parse":{"t":"date:'%H:%M:%S'"}}},"mark":{"type":"point","shape":"triangle-down","filled":true,"size":90,"opacity":1,"color":"#ff0000"}},
{"data":{"values":[{"t":"10:52:00","l":2188,"n":"buy"},{"t":"11:02:00","l":2187.24,"n":"buy"},{"t":"11:03:00","l":2186.74,"n":"buy"},{"t":"11:54:00","l":2186,"n":"buy"}],"format":{"parse":{"t":"date:'%H:%M:%S'"}}},"mark":{"type":"point","shape":"triangle-up","filled":true,"size":90,"opacity":1,"color":"#00ff00"}},
{"data":{"values":[{"t":"10:26:00","l":2188.945,"txt":"8L"},{"t":"10:52:00","l":2187.785,"txt":"2L"},{"t":"11:01:30","l":2187.045,"txt":"2L"},{"t":"11:03:00","l":2186.535,"txt":"2L"},{"t":"11:54:00","l":2185.795,"txt":"2L"}],"format":{"parse":{"t":"date:'%H:%M:%S'"}}},"mark":{"type":"text","align":"center","baseline":"middle","font":"DejaVu Sans","fontSize":13.5,"color":"#ffffff"},"encoding":{"text":{"field":"txt"}}},
{"data":{"values":[{"t":"14:26:00","t2":"14:59:00","l":2186.61,"h":2186.89}],"format":{"parse":{"t":"date:'%H:%M:%S'","t2":"date:'%H:%M:%S'"}}},"mark":{"type":"rect","fill":"#ffffff"},"encoding":{"x2":{"field":"t2"},"y2":{"field":"h"}}},
{"data":{"values":[{"t":"14:25:00","l":2186.75}],"format":{"parse":{"t":"date:'%H:%M:%S'"}}},"mark":{"type":"point","shape":"triangle-left","filled":true,"size":130,"opacity":1,"color":"#ffffff"}},
{"data":{"values":[{"t":"14:26:40","l":2186.75,"txt":"2186.75"}],"format":{"parse":{"t":"date:'%H:%M:%S'"}}},"mark":{"type":"text","align":"left","baseline":"middle","font":"Liberation Mono","fontSize":13.3,"color":"#000000"},"encoding":{"text":{"field":"txt"}}},
{"data":{"values":[{"t":"14:23:30","t2":"14:32:00","l":2181.62,"h":2181.89},{"t":"14:33:00","t2":"14:41:30","l":2181.62,"h":2181.89}],"format":{"parse":{"t":"date:'%H:%M:%S'","t2":"date:'%H:%M:%S'"}}},"mark":{"type":"rect","fill":"#000000","fillOpacity":0,"stroke":"#ff8000","strokeWidth":1},"encoding":{"x2":{"field":"t2"},"y2":{"field":"h"}}},
{"data":{"values":[{"t":"14:27:19","t2":"14:24:40","l":2181.86,"h":2181.75},{"t":"14:24:40","t2":"14:27:19","l":2181.75,"h":2181.63},{"t":"14:36:36","t2":"14:39:42","l":2181.86,"h":2181.75},{"t":"14:39:42","t2":"14:36:36","l":2181.75,"h":2181.63}],"format":{"parse":{"t":"date:'%H:%M:%S'","t2":"date:'%H:%M:%S'"}}},"mark":{"type":"rule","color":"#ff8000","strokeWidth":1},"encoding":{"x2":{"field":"t2"},"y2":{"field":"h"}}},
{"data":{"values":[{"t":"14:12:43","t2":"14:21:34","l":2182.32,"h":2182.61}],"format":{"parse":{"t":"date:'%H:%M:%S'","t2":"date:'%H:%M:%S'"}}},"mark":{"type":"rect","fill":"#111111","stroke":"#666666","strokeWidth":1},"encoding":{"x2":{"field":"t2"},"y2":{"field":"h"}}},
{"data":{"values":[{"t":"14:14:29","t2":"14:19:47","l":2182.37,"h":2182.55}],"format":{"parse":{"t":"date:'%H:%M:%S'","t2":"date:'%H:%M:%S'"}}},"mark":{"type":"rule","color":"#e8cc88","strokeWidth":3},"encoding":{"x2":{"field":"t2"},"y2":{"field":"h"}}},
{"data":{"values":[{"t":"14:14:56","l":2182.2,"a":-45},{"t":"14:20:14","l":2182.2,"a":45},{"t":"14:14:56","l":2182.015,"a":-135},{"t":"14:20:14","l":2182.015,"a":135}],"format":{"parse":{"t":"date:'%H:%M:%S'"}}},"mark":{"type":"point","shape":"triangle-up","filled":true,"size":45,"opacity":1,"color":"#ff8000"},"encoding":{"angle":{"field":"a","type":"quantitative","scale":null}}}
]}
